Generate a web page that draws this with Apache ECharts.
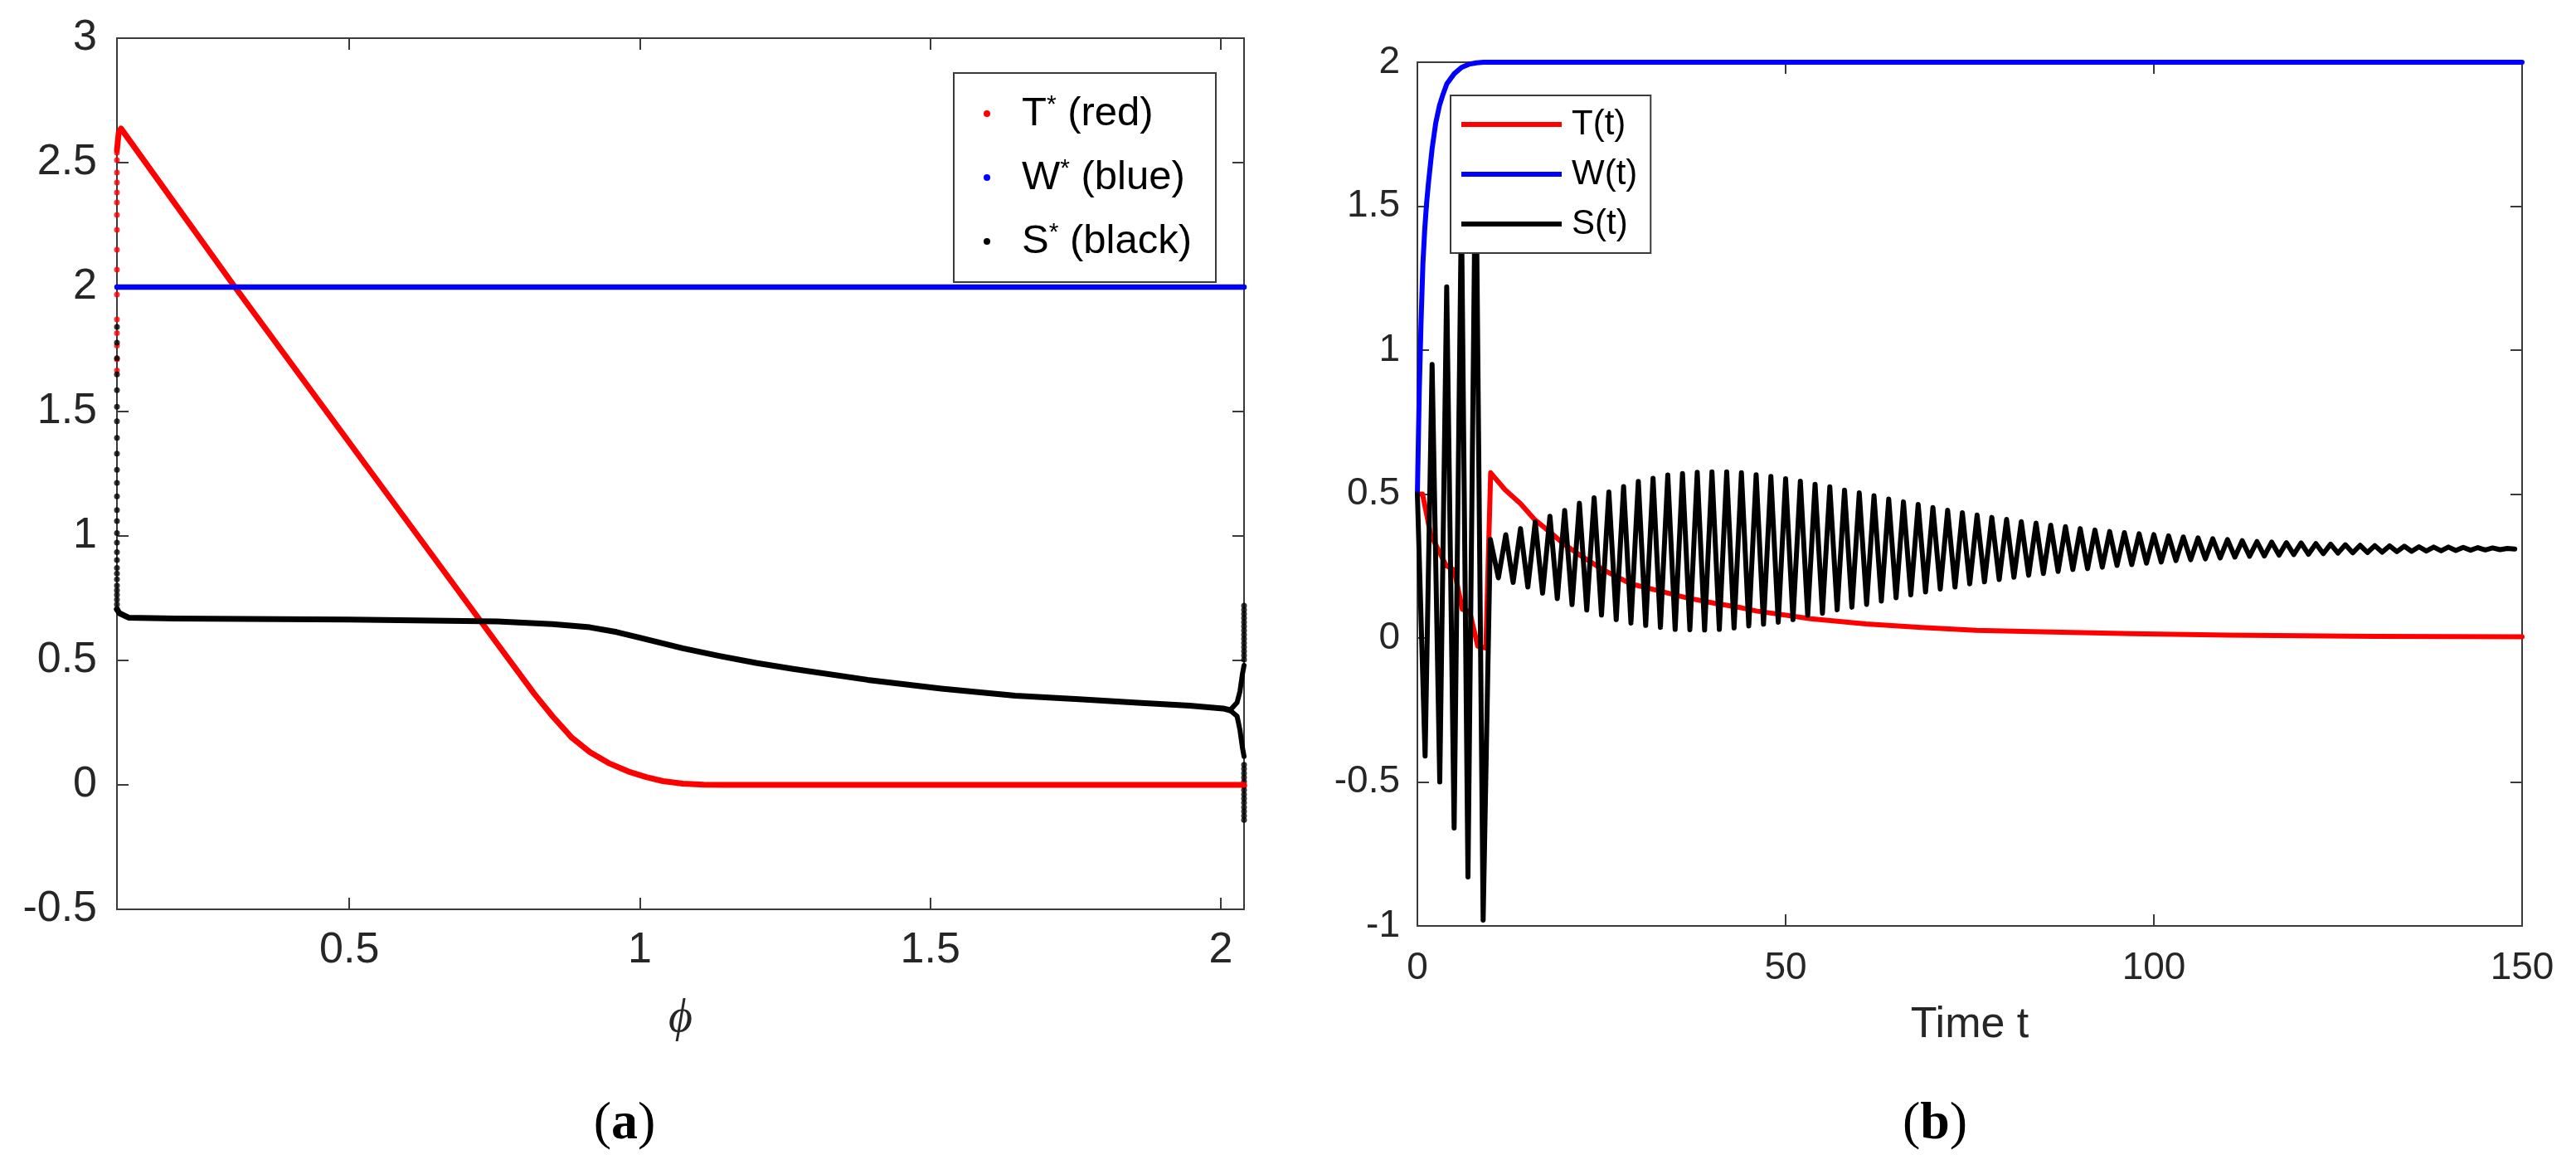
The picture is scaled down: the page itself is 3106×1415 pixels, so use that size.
<!DOCTYPE html>
<html><head><meta charset="utf-8">
<script src="https://cdn.jsdelivr.net/npm/echarts@6/dist/echarts.min.js"></script>
<style>html,body{margin:0;padding:0;background:#fff}#c{width:3106px;height:1415px}</style>
</head><body><div id="c"></div>
<script>
// ---------- panel (a): equilibria vs phi ----------
const phiTicks = [0.5, 1, 1.5, 2];
const phiT = [0.100, 0.103, 0.107, 0.300, 0.755, 0.818, 0.850, 0.882, 0.914, 0.946, 0.980, 1.011, 1.040, 1.074, 1.110, 1.150, 1.500, 2.040];
const tStar = [2.55, 2.62, 2.637, 2.010, 0.566, 0.367, 0.275, 0.192, 0.132, 0.088, 0.054, 0.031, 0.015, 0.005, 0.001, 0.000, 0.000, 0.000];
const phiW = [0.100, 2.040];
const wStar = [2.0, 2.0];
const phiS = [0.100, 0.104, 0.120, 0.200, 0.500, 0.755, 0.850, 0.914, 0.960, 1.000, 1.074, 1.137, 1.200, 1.264, 1.392, 1.519, 1.646, 1.756, 1.851, 1.946, 2.004, 2.016];
const sStar = [0.706, 0.690, 0.672, 0.668, 0.664, 0.657, 0.646, 0.633, 0.614, 0.591, 0.549, 0.518, 0.490, 0.466, 0.422, 0.387, 0.358, 0.344, 0.331, 0.318, 0.307, 0.300];
const phiSBranch = [2.016, 2.028, 2.033, 2.037, 2.040];
const sStarUp = [0.300, 0.331, 0.376, 0.442, 0.480];
const sStarDown = [0.300, 0.276, 0.220, 0.153, 0.114];
// isolated dots on the left edge (phi = 0.1) and right edge (phi = 2.04)
const tDotsLeft = [2.54, 2.51, 2.46, 2.42, 2.38, 2.34, 2.29, 2.23, 2.15, 2.07, 1.97, 1.87, 1.815, 1.765, 1.71, 1.665];
const sDotsLeft = [1.840, 1.777, 1.714, 1.649, 1.586, 1.519, 1.461, 1.394, 1.331, 1.266, 1.213, 1.159, 1.104, 1.060, 1.012, 0.973, 0.935, 0.903, 0.872, 0.849, 0.826, 0.801, 0.782, 0.763, 0.744, 0.725, 0.706];
const sDotsRight = [0.720, 0.703, 0.687, 0.670, 0.653, 0.637, 0.620, 0.603, 0.587, 0.570, 0.553, 0.537, 0.520, 0.503,
                    0.081, 0.064, 0.047, 0.030, 0.013, -0.004, -0.021, -0.038, -0.055, -0.072, -0.090, -0.107, -0.124, -0.141];
const phiLeftEdge = 0.1, phiRightEdge = 2.04;

// ---------- panel (b): time series ----------
const tTicks = [0, 50, 100, 150];
const timeT = [0, 0.7, 1.8, 3.9, 5.0, 6.1, 7.1, 8.2, 9.3, 9.95, 11.9, 14.0, 15.9, 17.8, 20.0, 22.3, 25.3, 29.0, 32.8, 36.5, 40.3, 44.0, 46.0, 53.4, 60.9, 68.4, 75.9, 83.4, 97, 110, 130, 150];
const valT = [0.5, 0.5, 0.36, 0.252, 0.236, 0.10, 0.092, -0.028, -0.035, 0.574, 0.515, 0.467, 0.412, 0.372, 0.324, 0.284, 0.236, 0.188, 0.164, 0.140, 0.121, 0.105, 0.094, 0.067, 0.049, 0.037, 0.027, 0.022, 0.015, 0.010, 0.006, 0.004];
const timeW = [0, 0.25, 0.5, 0.75, 1, 1.25, 1.5, 2, 2.5, 3, 3.5, 4, 5, 6, 7, 8, 9, 150];
const valW = [0.5, 0.85, 1.1, 1.3, 1.42, 1.51, 1.58, 1.7, 1.79, 1.85, 1.89, 1.925, 1.96, 1.982, 1.993, 1.998, 2.0, 2.0];
const timeS = [0, 1.05, 2, 3.04, 3.98, 4.99, 5.98, 6.87, 7.92, 8.93, 9.9,
  11, 12, 13, 14, 15, 16, 17, 18, 19, 20, 21, 22, 23, 24, 25, 26, 27, 28, 29, 30,
  31, 32, 33, 34, 35, 36, 37, 38, 39, 40, 41, 42, 43, 44, 45, 46, 47, 48, 49, 50,
  51, 52, 53, 54, 55, 56, 57, 58, 59, 60, 61, 62, 63, 64, 65, 66, 67, 68, 69, 70,
  71, 72, 73, 74, 75, 76, 77, 78, 79, 80, 81, 82, 83, 84, 85, 86, 87, 88, 89, 90,
  91, 92, 93, 94, 95, 96, 97, 98, 99, 100, 101, 102, 103, 104, 105, 106, 107, 108, 109, 110,
  111, 112, 113, 114, 115, 116, 117, 118, 119, 120, 121, 122, 123, 124, 125, 126, 127, 128, 129, 130,
  131, 132, 133, 134, 135, 136, 137, 138, 139, 140, 141, 142, 143, 144, 145, 146, 147, 148, 149];
const valS = [0.5, -0.41, 0.95, -0.50, 1.22, -0.66, 1.50, -0.83, 1.75, -0.98, 0.343,
  0.209, 0.359, 0.193, 0.380, 0.177, 0.403, 0.156, 0.423, 0.137, 0.443, 0.116, 0.468, 0.097, 0.487, 0.080, 0.507, 0.064, 0.526, 0.052, 0.544,
  0.044, 0.555, 0.037, 0.566, 0.030, 0.571, 0.029, 0.576, 0.028, 0.577, 0.030, 0.577, 0.035, 0.574, 0.042, 0.567, 0.048, 0.561, 0.055, 0.553,
  0.064, 0.545, 0.079, 0.534, 0.086, 0.525, 0.098, 0.514, 0.107, 0.504, 0.117, 0.494, 0.128, 0.483, 0.140, 0.473, 0.150, 0.464, 0.160, 0.453,
  0.170, 0.444, 0.177, 0.435, 0.188, 0.427, 0.195, 0.419, 0.203, 0.412, 0.211, 0.404, 0.218, 0.399, 0.224, 0.392, 0.231, 0.387, 0.238, 0.380,
  0.241, 0.375, 0.246, 0.370, 0.252, 0.366, 0.255, 0.362, 0.260, 0.359, 0.264, 0.355, 0.269, 0.351, 0.272, 0.348, 0.275, 0.345, 0.278, 0.342,
  0.281, 0.338, 0.284, 0.335, 0.285, 0.333, 0.288, 0.331, 0.290, 0.330, 0.291, 0.328, 0.293, 0.326, 0.295, 0.324, 0.296, 0.322, 0.297, 0.321,
  0.298, 0.320, 0.300, 0.319, 0.301, 0.317, 0.302, 0.316, 0.303, 0.316, 0.304, 0.315, 0.305, 0.314, 0.306, 0.313, 0.307, 0.311, 0.309];

// ---------- build ----------
const zip = (a, b) => a.map((x, i) => [x, b[i]]);
const AX = '#3a3a3a', TXT = '#262626', SANS = 'Liberation Sans';
const RED = '#ff0000', BLUE = '#0000ff', BLACK = '#000000';

function xAx(grid, pos, min, max, ticks, showLabel, fs, margin, extra) {
  return Object.assign({
    gridIndex: grid, type: 'value', position: pos, min: min, max: max,
    axisLine: { onZero: false, lineStyle: { color: AX, width: 2 } },
    axisTick: { inside: true, length: 14, lineStyle: { color: AX, width: 2 }, customValues: ticks },
    axisLabel: { show: showLabel, customValues: ticks, fontSize: fs, fontFamily: SANS, color: TXT, margin: margin },
    splitLine: { show: false }
  }, extra || {});
}
function yAx(grid, pos, min, max, interval, showLabel, fs, margin) {
  return {
    gridIndex: grid, type: 'value', position: pos, min: min, max: max, interval: interval,
    axisLine: { onZero: false, lineStyle: { color: AX, width: 2 } },
    axisTick: { inside: true, length: 14, lineStyle: { color: AX, width: 2 } },
    axisLabel: { show: showLabel, fontSize: fs, fontFamily: SANS, color: TXT, margin: margin },
    splitLine: { show: false }
  };
}
function lineS(name, xi, yi, data, color, w) {
  return { name: name, type: 'line', xAxisIndex: xi, yAxisIndex: yi, data: data, symbol: 'none',
    lineStyle: { color: color, width: w, join: 'round', cap: 'round' }, itemStyle: { color: color }, clip: false, silent: true };
}
function dotS(name, xi, yi, data, color) {
  return { name: name, type: 'scatter', xAxisIndex: xi, yAxisIndex: yi, data: data, symbol: 'circle',
    symbolSize: 7, itemStyle: { color: color }, clip: false, silent: true };
}

const option = {
  animation: false,
  backgroundColor: '#ffffff',
  grid: [
    { left: 141, top: 46, width: 1359, height: 1050 },
    { left: 1709, top: 75, width: 1332, height: 1041 }
  ],
  xAxis: [
    xAx(0, 'bottom', 0.1, 2.04, phiTicks, true, 52, 24, {
      name: 'ϕ', nameLocation: 'middle', nameGap: 104,
      nameTextStyle: { fontFamily: 'Liberation Serif', fontStyle: 'italic', fontSize: 56, color: TXT } }),
    xAx(0, 'top', 0.1, 2.04, phiTicks, false, 52, 24),
    xAx(1, 'bottom', 0, 150, tTicks, true, 46, 28, {
      name: 'Time t', nameLocation: 'middle', nameGap: 94,
      nameTextStyle: { fontFamily: SANS, fontSize: 52, color: TXT } }),
    xAx(1, 'top', 0, 150, tTicks, false, 46, 28)
  ],
  yAxis: [
    yAx(0, 'left', -0.5, 3, 0.5, true, 52, 24),
    yAx(0, 'right', -0.5, 3, 0.5, false, 52, 24),
    yAx(1, 'left', -1, 2, 0.5, true, 46, 21),
    yAx(1, 'right', -1, 2, 0.5, false, 46, 21)
  ],
  legend: [
    {
      data: ['T* (red)', 'W* (blue)', 'S* (black)'], orient: 'vertical',
      left: 1150, top: 88, padding: [24, 29, 24, 36], itemGap: 27,
      itemWidth: 8, itemHeight: 8, icon: 'circle',
      backgroundColor: '#ffffff', borderColor: AX, borderWidth: 2, borderRadius: 0,
      selectedMode: false,
      formatter: function (n) { return n.replace('*', '{sup|*}'); },
      textStyle: { fontFamily: SANS, fontSize: 49, color: BLACK, lineHeight: 50, padding: [0, 0, 0, 33],
        rich: { sup: { fontFamily: SANS, fontSize: 30, lineHeight: 30, verticalAlign: 'top', color: BLACK } } }
    },
    {
      data: ['T(t)', 'W(t)', 'S(t)'], orient: 'vertical',
      left: 1749, top: 115, padding: [14, 16, 14, 13], itemGap: 18,
      itemWidth: 121, itemHeight: 6, icon: 'rect',
      backgroundColor: '#ffffff', borderColor: AX, borderWidth: 2, borderRadius: 0,
      selectedMode: false,
      textStyle: { fontFamily: SANS, fontSize: 42, color: BLACK, lineHeight: 42, padding: [0, 0, 0, 7] }
    }
  ],
  graphic: [
    { type: 'text', x: 753, y: 1355, silent: true,
      style: { text: '{p|(}{b|a}{p|)}', align: 'center', verticalAlign: 'middle',
        rich: { p: { fontFamily: 'Liberation Serif', fontSize: 64, fill: BLACK },
                b: { fontFamily: 'Liberation Serif', fontSize: 64, fontWeight: 'bold', fill: BLACK } } } },
    { type: 'text', x: 2333, y: 1355, silent: true,
      style: { text: '{p|(}{b|b}{p|)}', align: 'center', verticalAlign: 'middle',
        rich: { p: { fontFamily: 'Liberation Serif', fontSize: 64, fill: BLACK },
                b: { fontFamily: 'Liberation Serif', fontSize: 64, fontWeight: 'bold', fill: BLACK } } } }
  ],
  series: [
    // panel (a)
    lineS('T* (red)', 0, 0, zip(phiT, tStar), RED, 7),
    dotS('T* edge', 0, 0, tDotsLeft.map(v => [phiLeftEdge, v]), RED),
    lineS('W* (blue)', 0, 0, zip(phiW, wStar), BLUE, 6.5),
    lineS('S* (black)', 0, 0, zip(phiS, sStar), BLACK, 7),
    lineS('S* up', 0, 0, zip(phiSBranch, sStarUp), BLACK, 6),
    lineS('S* down', 0, 0, zip(phiSBranch, sStarDown), BLACK, 6),
    dotS('S* edge L', 0, 0, sDotsLeft.map(v => [phiLeftEdge, v]), BLACK),
    dotS('S* edge R', 0, 0, sDotsRight.map(v => [phiRightEdge, v]), BLACK),
    // panel (b)
    lineS('T(t)', 2, 2, zip(timeT, valT), RED, 6),
    lineS('W(t)', 2, 2, zip(timeW, valW), BLUE, 6),
    lineS('S(t)', 2, 2, zip(timeS, valS), BLACK, 6)
  ]
};
const chart = echarts.init(document.getElementById('c'), null, { renderer: 'canvas' });
chart.setOption(option);
</script>
</body></html>
